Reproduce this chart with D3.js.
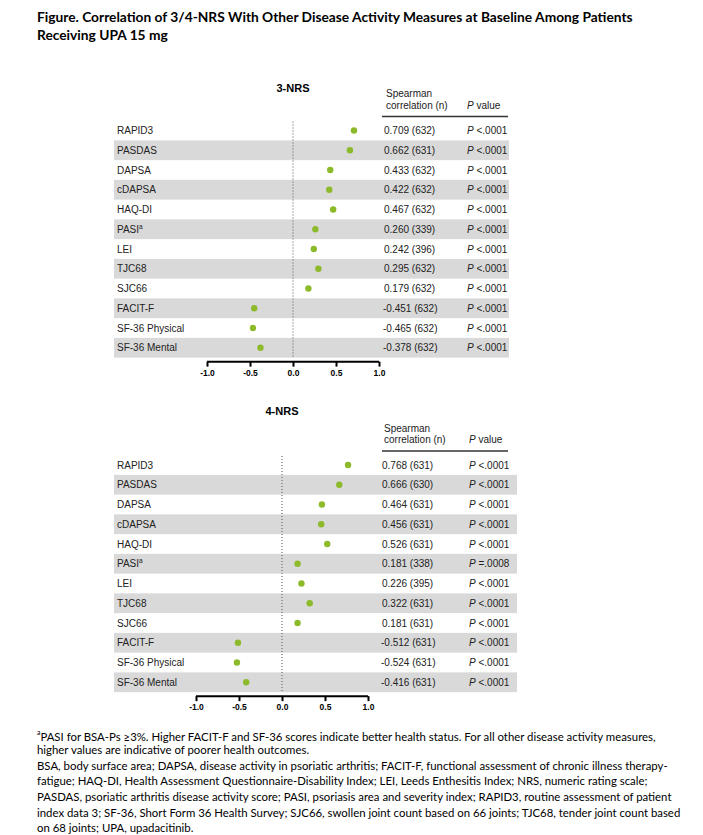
<!DOCTYPE html>
<html>
<head>
<meta charset="utf-8">
<script src="https://cdn.jsdelivr.net/npm/d3@7"></script>
<style>
  html, body { margin: 0; padding: 0; background: #fff; }
  svg { display: block; }
</style>
</head>
<body>
<svg id="chart" width="703" height="835"></svg>
<script>
// ---------------- DATA ----------------
const measures = ["RAPID3", "PASDAS", "DAPSA", "cDAPSA", "HAQ-DI", "PASI", "LEI", "TJC68", "SJC66", "FACIT-F", "SF-36 Physical", "SF-36 Mental"];
const superscripts = ["", "", "", "", "", "a", "", "", "", "", "", ""];

const nrs3Values = [0.709, 0.662, 0.433, 0.422, 0.467, 0.260, 0.242, 0.295, 0.179, -0.451, -0.465, -0.378];
const nrs3N      = [632, 631, 632, 632, 632, 339, 396, 632, 632, 632, 632, 632];
const nrs3P      = ["<.0001", "<.0001", "<.0001", "<.0001", "<.0001", "<.0001", "<.0001", "<.0001", "<.0001", "<.0001", "<.0001", "<.0001"];

const nrs4Values = [0.768, 0.666, 0.464, 0.456, 0.526, 0.181, 0.226, 0.322, 0.181, -0.512, -0.524, -0.416];
const nrs4N      = [631, 630, 631, 631, 631, 338, 395, 631, 631, 631, 631, 631];
const nrs4P      = ["<.0001", "<.0001", "<.0001", "<.0001", "<.0001", "=.0008", "<.0001", "<.0001", "<.0001", "<.0001", "<.0001", "<.0001"];

const axisTicks = [-1.0, -0.5, 0.0, 0.5, 1.0];
const panelTitles = ["3-NRS", "4-NRS"];

const figureTitle = [
  "Figure. Correlation of 3/4-NRS With Other Disease Activity Measures at Baseline Among Patients",
  "Receiving UPA 15 mg"
];
const footnotes = [
  "PASI for BSA-Ps \u22653%. Higher FACIT-F and SF-36 scores indicate better health status. For all other disease activity measures,",
  "higher values are indicative of poorer health outcomes.",
  "BSA, body surface area; DAPSA, disease activity in psoriatic arthritis; FACIT-F, functional assessment of chronic illness therapy-",
  "fatigue; HAQ-DI, Health Assessment Questionnaire-Disability Index; LEI, Leeds Enthesitis Index; NRS, numeric rating scale;",
  "PASDAS, psoriatic arthritis disease activity score; PASI, psoriasis area and severity index; RAPID3, routine assessment of patient",
  "index data 3; SF-36, Short Form 36 Health Survey; SJC66, swollen joint count based on 66 joints; TJC68, tender joint count based",
  "on 68 joints; UPA, upadacitinib."
];

// ---------------- LAYOUT ----------------
const svg = d3.select("#chart");
const ARIAL = "'Liberation Sans', Arial, Helvetica, sans-serif";
const CAL = "Lato, 'Open Sans', sans-serif";
const dotColor = "#8dba2a";
const shadeColor = "#d9d9d9";

// Title
const titleG = svg.append("g");
const t1 = titleG.append("text").attr("x", 37).attr("y", 22)
  .attr("font-family", CAL).attr("font-weight", 700).attr("font-size", 14)
  .attr("fill", "#000").text(figureTitle[0]);
const w1 = t1.node().getComputedTextLength();
const titleSize = 14 * 596 / w1;
t1.attr("font-size", titleSize);
titleG.append("text").attr("x", 37).attr("y", 40)
  .attr("font-family", CAL).attr("font-weight", 700).attr("font-size", titleSize)
  .attr("fill", "#000").text(figureTitle[1]);

const panels = [
  { title: panelTitles[0], values: nrs3Values, n: nrs3N, p: nrs3P,
    top: 130.5, range: [207, 379], valX: 384, pX: 467, shadeR: 509, lineR: 508, titleY: 92 },
  { title: panelTitles[1], values: nrs4Values, n: nrs4N, p: nrs4P,
    top: 465, range: [196, 368], valX: 382, pX: 469, shadeR: 517, lineR: 508, titleY: 415 }
];

const rowH = 19.75;
const labelX = 117;
const shadeL = 114;

panels.forEach(pn => {
  const g = svg.append("g");
  const x = d3.scaleLinear().domain([-1, 1]).range(pn.range);
  const y = d3.scaleLinear().domain([0, 1]).range([pn.top, pn.top + rowH]);
  const rows = measures.map((m, i) => ({ m, sup: superscripts[i], v: pn.values[i], n: pn.n[i], p: pn.p[i], i }));

  // shading
  g.selectAll("rect.shade").data(rows.filter(d => d.i % 2 === 1)).join("rect")
    .attr("class", "shade")
    .attr("x", shadeL).attr("width", pn.shadeR - shadeL)
    .attr("y", d => y(d.i) - rowH / 2).attr("height", rowH)
    .attr("fill", shadeColor);

  // panel title
  g.append("text").attr("x", x(0)).attr("y", pn.titleY)
    .attr("text-anchor", "middle").attr("font-family", ARIAL)
    .attr("font-weight", 700).attr("font-size", 11).text(pn.title);

  // headers
  const hY = y(0) - 14;
  g.append("text").attr("x", pn.valX + 2).attr("y", hY - 19.5)
    .attr("font-family", ARIAL).attr("font-size", 10).attr("fill", "#222").text("Spearman");
  g.append("text").attr("x", pn.valX + 2).attr("y", hY - 8)
    .attr("font-family", ARIAL).attr("font-size", 10).attr("fill", "#222").text("correlation (n)");
  const ph = g.append("text").attr("x", pn.pX).attr("y", hY - 8)
    .attr("font-family", ARIAL).attr("font-size", 10).attr("fill", "#222");
  ph.append("tspan").attr("font-style", "italic").text("P");
  ph.append("tspan").text(" value");
  g.append("line").attr("x1", 382).attr("x2", pn.lineR)
    .attr("y1", hY).attr("y2", hY).attr("stroke", "#333").attr("stroke-width", 1.3);

  // zero dotted line
  g.append("line").attr("x1", x(0)).attr("x2", x(0))
    .attr("y1", y(0) - 9).attr("y2", y(measures.length - 1) + rowH / 2)
    .attr("stroke", "#555").attr("stroke-width", 1).attr("stroke-dasharray", "1,2");

  // labels
  const lab = g.selectAll("text.lab").data(rows).join("text")
    .attr("class", "lab")
    .attr("x", labelX).attr("y", d => y(d.i)).attr("dy", "0.35em")
    .attr("font-family", ARIAL).attr("font-size", 10).attr("fill", "#222");
  lab.append("tspan").text(d => d.m);
  lab.filter(d => d.sup).append("tspan")
    .attr("font-size", 6.5).attr("dy", "-0.6em").text(d => d.sup);

  // dots
  g.selectAll("circle.dot").data(rows).join("circle")
    .attr("class", "dot")
    .attr("cx", d => x(d.v)).attr("cy", d => y(d.i)).attr("r", 3.2)
    .attr("fill", dotColor);

  // values
  g.selectAll("text.val").data(rows).join("text")
    .attr("class", "val")
    .attr("x", d => d.v < 0 ? pn.valX - 1 : pn.valX).attr("y", d => y(d.i)).attr("dy", "0.35em")
    .attr("font-family", ARIAL).attr("font-size", 10).attr("fill", "#222")
    .text(d => d3.format(".3f")(d.v).replace("\u2212", "-") + " (" + d.n + ")");

  // p values
  const pv = g.selectAll("text.pv").data(rows).join("text")
    .attr("class", "pv")
    .attr("x", pn.pX).attr("y", d => y(d.i)).attr("dy", "0.35em")
    .attr("font-family", ARIAL).attr("font-size", 10).attr("fill", "#222");
  pv.append("tspan").attr("font-style", "italic").text("P");
  pv.append("tspan").text(d => " " + d.p);

  // axis
  const axisY = y(measures.length - 1) + rowH / 2 + 4;
  const ax = g.append("g").attr("transform", `translate(0,${axisY})`)
    .call(d3.axisBottom(x).tickValues(axisTicks).tickSize(5).tickSizeOuter(0)
      .tickFormat(d3.format(".1f")));
  ax.select(".domain").attr("stroke", "#000").attr("stroke-width", 2)
    .attr("d", `M${pn.range[0]},0H${pn.range[1]}`);
  ax.selectAll(".tick line").attr("stroke", "#000").attr("stroke-width", 2).attr("y1", 0);
  ax.selectAll(".tick text").attr("font-family", ARIAL).attr("font-weight", 700)
    .attr("font-size", 8.5).attr("fill", "#000").attr("y", 8)
    .text(d => d3.format(".1f")(d).replace("\u2212", "-"));
});

// Footnotes
const fnG = svg.append("g");
const fnY0 = 738.5, fnDY = 15.6;
const fnText = fnG.selectAll("text").data(footnotes).join("text")
  .attr("x", 37).attr("y", (d, i) => fnY0 + i * fnDY)
  .attr("font-family", CAL).attr("font-size", 12).attr("fill", "#000");
fnText.each(function (d, i) {
  const t = d3.select(this);
  if (i === 0) {
    t.append("tspan").attr("font-size", 7).attr("dy", "-0.45em").text("a");
    t.append("tspan").attr("dy", "0.45em").text(d);
  } else {
    t.text(d);
  }
});
const fw = fnText.filter((d, i) => i === 4).node().getComputedTextLength();
const fnSize = 12 * (672 - 37) / fw;
fnText.attr("font-size", fnSize);
fnText.filter((d, i) => i === 0).select("tspan").attr("font-size", fnSize * 0.6);
</script>
</body>
</html>
